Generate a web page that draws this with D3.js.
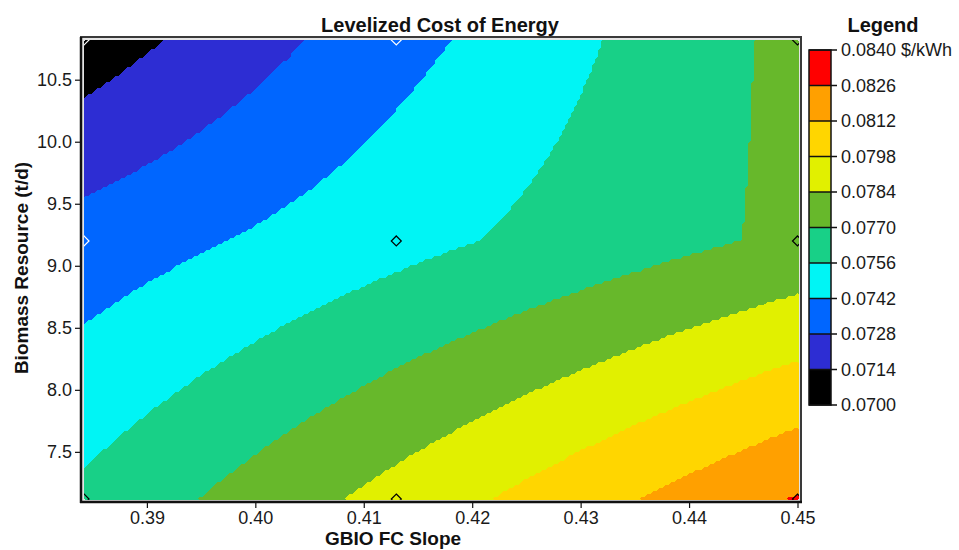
<!DOCTYPE html>
<html>
<head>
<meta charset="utf-8">
<script src="https://cdn.jsdelivr.net/npm/d3@7"></script>
<style>
  body { margin: 0; background: #fff; }
  svg { display: block; font-family: "Liberation Sans", Arial, sans-serif; }
</style>
</head>
<body>
<svg id="chart" width="959" height="550"></svg>
<script>
// Sensitivity grid: GBIO fuel-curve slope (x) against biomass resource (y)
const slopeValues = [0.3842, 0.413, 0.45];
const resourceValues = [7.12, 9.2, 10.82];

// Levelized cost of energy ($/kWh), one row per biomass resource value
const costAt712 = [0.0759, 0.0789, 0.0827];
const costAt920 = [0.0734, 0.07515, 0.0773];
const costAt1082 = [0.0706, 0.0737, 0.0774];

// Colour bands of the legend
const legendLevels = [0.0700, 0.0714, 0.0728, 0.0742, 0.0756, 0.0770, 0.0784, 0.0798, 0.0812, 0.0826, 0.0840];
const bandColors = ["#000000", "#2d2dd3", "#0066ff", "#00f5f5", "#18d087", "#67b82b", "#e1f000", "#ffd600", "#ffa000", "#ff0000"];

// Axis ticks
const xTickValues = [0.39, 0.40, 0.41, 0.42, 0.43, 0.44, 0.45];
const yTickValues = [7.5, 8.0, 8.5, 9.0, 9.5, 10.0, 10.5];

const costRows = [costAt712, costAt920, costAt1082];

const svg = d3.select("#chart");

// Plot box
const fill = { left: 84, right: 799, top: 40, bottom: 500 };
const x = d3.scaleLinear().domain([slopeValues[0], slopeValues[2]]).range([84, 797.5]);
const y = d3.scaleLinear().domain([resourceValues[0], resourceValues[2]]).range([499, 40]);

// Bilinear interpolation of the cost table inside each grid cell
function cellIndex(vals, v) {
  for (let i = 0; i < vals.length - 2; i++) if (v <= vals[i + 1]) return i;
  return vals.length - 2;
}
function costAt(sx, ry) {
  sx = Math.max(slopeValues[0], Math.min(slopeValues[2], sx));
  ry = Math.max(resourceValues[0], Math.min(resourceValues[2], ry));
  const i = cellIndex(slopeValues, sx), j = cellIndex(resourceValues, ry);
  const tx = (sx - slopeValues[i]) / (slopeValues[i + 1] - slopeValues[i]);
  const ty = (ry - resourceValues[j]) / (resourceValues[j + 1] - resourceValues[j]);
  const a = costRows[j][i], b = costRows[j][i + 1];
  const c = costRows[j + 1][i], d = costRows[j + 1][i + 1];
  return (a * (1 - tx) + b * tx) * (1 - ty) + (c * (1 - tx) + d * tx) * ty;
}

// Sample the surface on a coarse raster and trace the filled bands
const nx = 238, ny = 153;
const cw = (fill.right - fill.left) / nx, ch = (fill.bottom - fill.top) / ny;
const grid = new Array(nx * ny);
for (let j = 0; j < ny; j++) {
  for (let i = 0; i < nx; i++) {
    grid[i + j * nx] = costAt(x.invert(fill.left + (i + 0.5) * cw), y.invert(fill.top + (j + 0.5) * ch));
  }
}
const bands = d3.contours().size([nx, ny]).smooth(false)
  .thresholds(legendLevels.slice(0, -1))(grid);

const toPlot = d3.geoTransform({
  point(px, py) { this.stream.point(fill.left + px * cw, fill.top + py * ch); }
});
const bandPath = d3.geoPath(toPlot);

svg.append("defs").append("clipPath").attr("id", "plotClip")
  .append("rect")
  .attr("x", fill.left).attr("y", fill.top)
  .attr("width", fill.right - fill.left).attr("height", fill.bottom - fill.top);

// Frame around the plot
svg.append("rect")
  .attr("x", 81).attr("y", 37)
  .attr("width", 720).attr("height", 465)
  .attr("fill", "#e4e4e4").attr("stroke", "#3a3a3a").attr("stroke-width", 2);

const plot = svg.append("g").attr("clip-path", "url(#plotClip)");
plot.selectAll("path.band")
  .data(bands)
  .join("path")
  .attr("class", "band")
  .attr("d", bandPath)
  .attr("fill", (d, i) => bandColors[i])
  .attr("shape-rendering", "crispEdges");

// Sensitivity points
const points = [];
resourceValues.forEach((rv, j) => slopeValues.forEach((sv, i) => points.push({ sv, rv, cost: costRows[j][i] })));
plot.selectAll("path.pt")
  .data(points)
  .join("path")
  .attr("class", "pt")
  .attr("transform", d => `translate(${x(d.sv)},${y(d.rv)})`)
  .attr("d", "M0,-5L5,0L0,5L-5,0Z")
  .attr("fill", "none")
  .attr("stroke", d => d.cost < legendLevels[3] ? "#ffffff" : "#000000")
  .attr("stroke-width", 1.2);

// Axes
const xAxisG = svg.append("g").attr("transform", "translate(0,502)");
xAxisG.call(d3.axisBottom(x).tickValues(d3.range(0.385, 0.4501, 0.005)).tickSize(3).tickFormat(""));
xAxisG.call(d3.axisBottom(x).tickValues(xTickValues).tickSize(6).tickPadding(3).tickFormat(d3.format(".2f")));
const yAxisG = svg.append("g").attr("transform", "translate(81,0)");
yAxisG.call(d3.axisLeft(y).tickValues(d3.range(7.15, 10.8201, 0.05)).tickSize(3).tickFormat(""));
yAxisG.call(d3.axisLeft(y).tickValues(yTickValues).tickSize(6).tickPadding(3).tickFormat(d3.format(".1f")));
svg.selectAll(".domain").remove();
svg.selectAll(".tick line").attr("stroke", "#111").attr("stroke-width", 1.2);
svg.selectAll(".tick text").attr("font-size", 18).attr("fill", "#1a1a1a")
  .attr("font-family", "'Liberation Sans', Arial, sans-serif");
svg.append("line").attr("x1", 81).attr("x2", 81).attr("y1", 37).attr("y2", 503)
  .attr("stroke", "#111").attr("stroke-width", 2.5);
svg.append("line").attr("x1", 80).attr("x2", 802).attr("y1", 502).attr("y2", 502)
  .attr("stroke", "#111").attr("stroke-width", 2.5);

// Titles
svg.append("text").attr("x", 440).attr("y", 32).attr("text-anchor", "middle")
  .attr("font-size", 20).attr("font-weight", "bold").attr("fill", "#111")
  .text("Levelized Cost of Energy");
svg.append("text").attr("x", 393).attr("y", 545).attr("text-anchor", "middle")
  .attr("font-size", 19).attr("font-weight", "bold").attr("fill", "#111")
  .text("GBIO FC Slope");
svg.append("text").attr("transform", "translate(28,268) rotate(-90)").attr("text-anchor", "middle")
  .attr("font-size", 19).attr("font-weight", "bold").attr("fill", "#111")
  .text("Biomass Resource (t/d)");

// Legend
const lg = d3.scaleLinear().domain([legendLevels[0], legendLevels[legendLevels.length - 1]]).range([405, 50]);
const legend = svg.append("g");
legend.append("text").attr("x", 883).attr("y", 32).attr("text-anchor", "middle")
  .attr("font-size", 20).attr("font-weight", "bold").attr("fill", "#111").text("Legend");
legend.selectAll("rect.sw")
  .data(bandColors)
  .join("rect")
  .attr("class", "sw")
  .attr("x", 809).attr("width", 22)
  .attr("y", (d, i) => lg(legendLevels[i + 1]))
  .attr("height", (d, i) => lg(legendLevels[i]) - lg(legendLevels[i + 1]))
  .attr("fill", d => d);
legend.append("rect").attr("x", 809).attr("y", lg(legendLevels[10])).attr("width", 22)
  .attr("height", lg(legendLevels[0]) - lg(legendLevels[10]))
  .attr("fill", "none").attr("stroke", "#111").attr("stroke-width", 1.5);
legend.selectAll("line.lt")
  .data(legendLevels)
  .join("line")
  .attr("class", "lt")
  .attr("x1", 809).attr("x2", 837)
  .attr("y1", d => lg(d)).attr("y2", d => lg(d))
  .attr("stroke", "#111").attr("stroke-width", 1.5);
legend.selectAll("text.ll")
  .data(legendLevels)
  .join("text")
  .attr("class", "ll")
  .attr("x", 841).attr("y", d => lg(d)).attr("dy", "0.35em")
  .attr("font-size", 18).attr("fill", "#1a1a1a")
  .text((d, i) => d3.format(".4f")(d) + (i === legendLevels.length - 1 ? " $/kWh" : ""));
</script>
</body>
</html>
